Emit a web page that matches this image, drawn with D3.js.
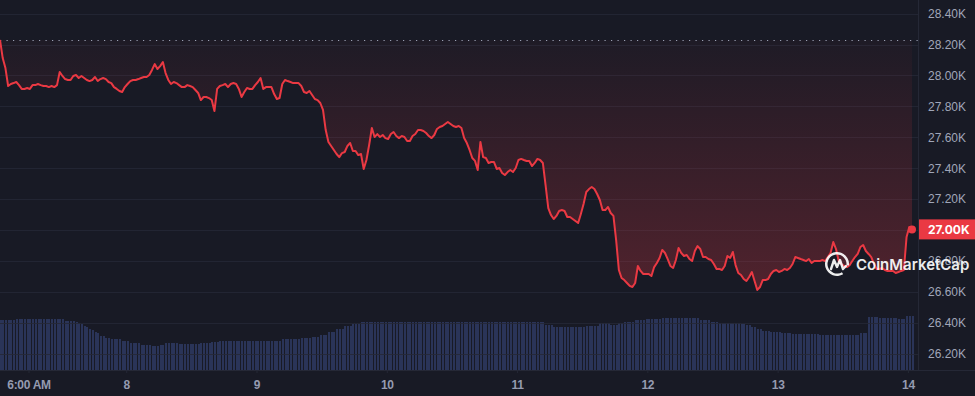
<!DOCTYPE html>
<html>
<head>
<meta charset="utf-8">
<script src="https://cdn.jsdelivr.net/npm/d3@7"></script>
<style>
  html, body { margin: 0; padding: 0; background: #181a25; }
  svg { display: block; font-family: Inter, "Noto Sans", sans-serif; }
</style>
</head>
<body>
<svg class="chart" width="975" height="396"></svg>
<script>
// BTC price, 30 minute steps
var prices = [
  28230, 28113, 28048, 27932, 27945, 27951, 27958, 27938, 27913, 27913,
  27919, 27913, 27938, 27938, 27945, 27938, 27932, 27932, 27925, 27932,
  27925, 27938, 28023, 27997, 27977, 27971, 27971, 27997, 28003, 27984,
  27997, 27984, 27971, 27964, 27971, 27990, 27964, 27977, 27984, 27977,
  27958, 27951, 27925, 27913, 27900, 27893, 27925, 27945, 27964, 27971,
  27971, 27977, 27984, 27990, 27990, 28003, 28036, 28074, 28042, 28061,
  28087, 28016, 27971, 27945, 27958, 27951, 27938, 27925, 27925, 27938,
  27932, 27925, 27906, 27887, 27841, 27861, 27861, 27854, 27841, 27770,
  27913, 27932, 27938, 27945, 27925, 27945, 27951, 27945, 27913, 27861,
  27893, 27919, 27913, 27913, 27938, 27958, 27984, 27913, 27925, 27925,
  27925, 27880, 27848, 27854, 27945, 27971, 27964, 27958, 27951, 27951,
  27951, 27932, 27893, 27887, 27900, 27874, 27848, 27841, 27822, 27777,
  27647, 27570, 27544, 27518, 27492, 27472, 27498, 27505, 27544, 27563,
  27511, 27511, 27485, 27492, 27395, 27453, 27550, 27660, 27602, 27621,
  27602, 27615, 27595, 27589, 27621, 27634, 27608, 27595, 27608, 27602,
  27576, 27576, 27608, 27621, 27647, 27647, 27641, 27628, 27608, 27595,
  27615, 27654, 27667, 27673, 27686, 27699, 27686, 27673, 27667, 27673,
  27660, 27595, 27563, 27518, 27466, 27447, 27388, 27570, 27472, 27466,
  27434, 27440, 27440, 27395, 27401, 27369, 27356, 27375, 27388, 27375,
  27401, 27453, 27460, 27453, 27447, 27447, 27414, 27434, 27460, 27453,
  27434, 27291, 27142, 27097, 27071, 27091, 27123, 27129, 27123, 27084,
  27084, 27071, 27058, 27045, 27104, 27168, 27246, 27265, 27278, 27265,
  27233, 27194, 27129, 27129, 27149, 27110, 27091, 26935, 26741, 26689,
  26676, 26657, 26638, 26631, 26657, 26767, 26735, 26715, 26715, 26715,
  26702, 26760, 26786, 26819, 26871, 26851, 26812, 26767, 26754, 26806,
  26883, 26851, 26832, 26838, 26812, 26799, 26864, 26896, 26877, 26825,
  26825, 26812, 26806, 26780, 26748, 26748, 26741, 26767, 26832, 26819,
  26858, 26773, 26722, 26709, 26683, 26670, 26696, 26728, 26670, 26612,
  26631, 26676, 26676, 26683, 26715, 26735, 26741, 26728, 26735, 26748,
  26741, 26754, 26780, 26825, 26819, 26812, 26806, 26799, 26812, 26786,
  26799, 26799, 26799, 26806, 26799, 26825, 26851, 26922, 26877, 26799,
  26780, 26767, 26760, 26773, 26799, 26825, 26845, 26890, 26903, 26864,
  26845, 26825, 26780, 26748, 26748, 26754, 26741, 26735, 26735, 26735,
  26722, 26728, 26735, 26741, 26955, 27019, 27004
]

// 24h volume in billions USD, same steps
var volumes = [
  18.2, 18.2, 18.2, 18.2, 18.2, 18.2, 18.5, 18.5, 18.5, 18.5,
  18.5, 18.5, 18.5, 18.5, 18.5, 18.5, 18.5, 18.5, 18.5, 18.4,
  18.4, 18.4, 18.4, 18.4, 18.0, 18.0, 18.0, 18.0, 17.5, 17.1,
  16.7, 16.0, 15.6, 14.9, 14.5, 13.9, 13.5, 12.4, 12.2, 11.7,
  11.6, 11.2, 11.2, 11.2, 11.2, 10.5, 10.5, 10.5, 9.9, 9.9,
  9.9, 9.9, 9.2, 9.2, 9.2, 9.2, 8.7, 8.7, 8.7, 9.0,
  9.0, 9.7, 9.8, 9.8, 9.8, 9.8, 9.6, 9.6, 9.6, 9.6,
  9.6, 9.6, 9.6, 9.6, 9.8, 9.8, 9.8, 9.8, 10.1, 10.1,
  10.1, 10.4, 10.4, 10.4, 10.4, 10.4, 10.4, 10.4, 10.4, 10.4,
  10.4, 10.4, 10.4, 10.4, 10.4, 10.4, 10.7, 10.7, 10.7, 10.7,
  10.7, 10.7, 10.7, 10.7, 11.2, 11.2, 11.2, 11.2, 11.2, 11.2,
  11.2, 11.5, 11.5, 11.5, 11.5, 12.0, 12.0, 12.0, 12.7, 12.7,
  12.7, 13.8, 13.8, 13.8, 14.9, 14.9, 14.9, 16.0, 16.0, 16.0,
  16.7, 16.7, 16.7, 17.3, 17.3, 17.3, 17.4, 17.4, 17.4, 17.4,
  17.4, 17.4, 17.4, 17.4, 17.4, 17.4, 17.4, 17.4, 17.4, 17.4,
  17.4, 17.4, 17.4, 17.4, 17.4, 17.4, 17.4, 17.4, 17.4, 17.4,
  17.4, 17.6, 17.6, 17.6, 17.6, 17.6, 17.6, 17.6, 17.6, 17.6,
  17.6, 17.6, 17.6, 17.6, 17.6, 17.6, 17.6, 17.6, 17.6, 17.6,
  17.6, 17.4, 17.4, 17.4, 17.4, 17.4, 17.4, 17.4, 17.4, 17.4,
  17.4, 17.4, 17.4, 17.4, 17.4, 17.4, 17.4, 17.4, 17.4, 17.4,
  17.4, 16.2, 16.2, 16.2, 15.6, 15.6, 15.6, 15.6, 15.6, 15.6,
  15.6, 15.6, 15.6, 15.6, 15.6, 15.6, 15.9, 15.9, 15.9, 15.9,
  15.9, 17.0, 17.0, 17.0, 17.0, 16.4, 16.4, 16.4, 17.1, 17.1,
  17.6, 17.6, 17.6, 17.6, 18.2, 18.2, 18.2, 18.2, 18.5, 18.5,
  18.5, 18.5, 18.5, 18.5, 18.8, 18.8, 18.8, 18.8, 18.8, 19.0,
  19.0, 19.0, 19.0, 19.0, 18.8, 18.8, 18.8, 18.8, 18.2, 18.2,
  18.2, 18.2, 17.3, 17.3, 17.3, 17.0, 17.0, 17.0, 17.0, 17.0,
  17.0, 17.0, 17.0, 16.9, 16.9, 16.4, 16.4, 15.5, 15.5, 14.8,
  14.8, 14.2, 14.2, 14.2, 13.7, 13.7, 13.7, 13.7, 13.3, 13.3,
  13.3, 13.3, 13.2, 13.2, 13.2, 13.0, 13.0, 13.0, 13.0, 13.0,
  13.0, 13.0, 12.8, 12.8, 12.8, 12.8, 12.6, 12.6, 12.6, 12.6,
  12.6, 12.6, 12.6, 12.6, 12.6, 12.6, 12.6, 13.3, 13.3, 13.3,
  19.2, 19.2, 19.2, 19.2, 18.8, 18.8, 18.8, 18.8, 18.8, 18.8,
  18.8, 18.5, 18.5, 18.5, 19.7, 19.7, 19.7
]

var priceTicks = [26200, 26400, 26600, 26800, 27000, 27200, 27400, 27600, 27800, 28000, 28200, 28400]
var dayTicks = ["2023-10-07T06:00", "2023-10-08T00:00", "2023-10-09T00:00", "2023-10-10T00:00",
  "2023-10-11T00:00", "2023-10-12T00:00", "2023-10-13T00:00", "2023-10-14T00:00"]
var startTime = "2023-10-07T00:45"
var endTime = "2023-10-14T00:45"

var red = "#ea3943"
var gridColor = "#252836"
var labelColor = "#a0a6b9"

var t0 = new Date(startTime), t1 = new Date(endTime)
var step = (t1 - t0) / (prices.length - 1)

var data = prices.map(function(p, i) {
  return { time: new Date(+t0 + i * step), price: p, volume: volumes[i] }
})

var chart = d3.select(".chart"),
    plotRight = 918,
    plotBottom = 370

var x = d3.scaleTime().domain([t0, t1]).range([0, 912])
var y = d3.scaleLinear().domain([26200, 28400]).range([353.6, 13.7])
var yVol = d3.scaleLinear().domain([0, 20]).range([plotBottom, 315])

var openPrice = prices[0]
var lastPrice = prices[prices.length - 1]
var fmtK = function(d) { return (d / 1000).toFixed(2) + "K" }

var defs = chart.append("defs")
var grad = defs.append("linearGradient")
    .attr("id", "fillGrad")
    .attr("gradientUnits", "userSpaceOnUse")
    .attr("x1", 0).attr("x2", 0)
    .attr("y1", y(openPrice)).attr("y2", y(26620))
grad.append("stop").attr("offset", "0%").attr("stop-color", red).attr("stop-opacity", 0.03)
grad.append("stop").attr("offset", "100%").attr("stop-color", red).attr("stop-opacity", 0.27)

// volume bars
chart.append("g")
  .selectAll("rect")
    .data(data)
  .enter().append("rect")
    .attr("x", function(d) { return x(d.time) - 0.5 })
    .attr("y", function(d) { return yVol(d.volume) })
    .attr("width", 2)
    .attr("height", function(d) { return plotBottom - yVol(d.volume) })
    .attr("fill", "#2a3458")
    .attr("shape-rendering", "crispEdges")

// grid
chart.append("g")
  .selectAll("line")
    .data(priceTicks)
  .enter().append("line")
    .attr("x1", 0)
    .attr("x2", plotRight)
    .attr("y1", function(d) { return Math.round(y(d)) + 0.5 })
    .attr("y2", function(d) { return Math.round(y(d)) + 0.5 })
    .attr("stroke", gridColor)
    .attr("stroke-opacity", 0.85)

// area between price and open price
var area = d3.area()
    .x(function(d) { return x(d.time) })
    .y0(y(openPrice))
    .y1(function(d) { return y(d.price) })

chart.append("path")
    .datum(data)
    .attr("d", area)
    .attr("fill", "url(#fillGrad)")

// open price reference
chart.append("line")
    .attr("x1", 0)
    .attr("x2", plotRight)
    .attr("y1", Math.round(y(openPrice)) + 0.5)
    .attr("y2", Math.round(y(openPrice)) + 0.5)
    .attr("stroke", "#9aa0b3")
    .attr("stroke-width", 1.2)
    .attr("stroke-dasharray", "1.2,5.3")

var line = d3.line()
    .x(function(d) { return x(d.time) })
    .y(function(d) { return y(d.price) })

chart.append("path")
    .datum(data)
    .attr("d", line)
    .attr("fill", "none")
    .attr("stroke", red)
    .attr("stroke-width", 2)
    .attr("stroke-linejoin", "round")

chart.append("circle")
    .attr("cx", x(t1))
    .attr("cy", y(lastPrice))
    .attr("r", 4)
    .attr("fill", red)

// axis frames
chart.append("line")
    .attr("x1", plotRight + 0.5).attr("x2", plotRight + 0.5)
    .attr("y1", 0).attr("y2", plotBottom)
    .attr("stroke", gridColor)
chart.append("line")
    .attr("x1", 0).attr("x2", 975)
    .attr("y1", plotBottom + 0.5).attr("y2", plotBottom + 0.5)
    .attr("stroke", gridColor)

// right axis, the 27.00K tick sits under the price tag
var yAxis = chart.append("g")
    .attr("transform", "translate(" + plotRight + ",0)")
    .call(d3.axisRight(y).tickValues(priceTicks.filter(function(d) { return d !== 27000 }))
      .tickSize(0).tickPadding(10).tickFormat(fmtK))
yAxis.select(".domain").remove()
yAxis.selectAll("text")
    .attr("fill", labelColor)
    .style("font-size", "12px")
    .style("font-weight", 500)

// bottom axis
var fmtDay = d3.timeFormat("%-d"), fmtHour = d3.timeFormat("%-I:%M %p")
var xAxis = chart.append("g")
    .attr("transform", "translate(0," + plotBottom + ")")
    .call(d3.axisBottom(x).tickValues(dayTicks.map(function(s) { return new Date(s) }))
      .tickSize(3).tickPadding(7)
      .tickFormat(function(d) { return d.getHours() === 0 ? fmtDay(d) : fmtHour(d) }))
xAxis.select(".domain").remove()
xAxis.selectAll("line").attr("stroke", gridColor)
xAxis.selectAll("text")
    .attr("fill", "#959bb0")
    .style("font-size", "12px")
    .style("font-weight", 600)
    .style("letter-spacing", "-0.3px")

// current price tag
chart.append("rect")
    .attr("x", plotRight + 1)
    .attr("y", y(lastPrice) - 10)
    .attr("width", 56)
    .attr("height", 20)
    .attr("fill", red)
chart.append("text")
    .attr("x", plotRight + 10)
    .attr("y", y(lastPrice))
    .attr("dy", "0.35em")
    .attr("fill", "#ffffff")
    .style("font-size", "12px")
    .style("font-weight", 700)
    .text(fmtK(lastPrice))

// watermark
var wm = chart.append("g")
    .attr("transform", "translate(837,264)")
    .attr("opacity", 0.92)
wm.append("path")
    .attr("d", d3.arc()({ innerRadius: 9.5, outerRadius: 12, startAngle: 2.6, endAngle: 2.6 + 2 * Math.PI - 0.9 }))
    .attr("fill", "#ffffff")
wm.append("path")
    .attr("d", "M-6,5 L-3,-4 L0,3 L3,-4 L6,5 L9,2")
    .attr("fill", "none")
    .attr("stroke", "#ffffff")
    .attr("stroke-width", 2.4)
    .attr("stroke-linejoin", "round")
    .attr("stroke-linecap", "round")
wm.append("text")
    .attr("x", 19)
    .attr("y", 1)
    .attr("dy", "0.35em")
    .attr("fill", "#ffffff")
    .style("font-size", "15px")
    .style("font-weight", 600)
    .text("CoinMarketCap")
</script>
</body>
</html>
